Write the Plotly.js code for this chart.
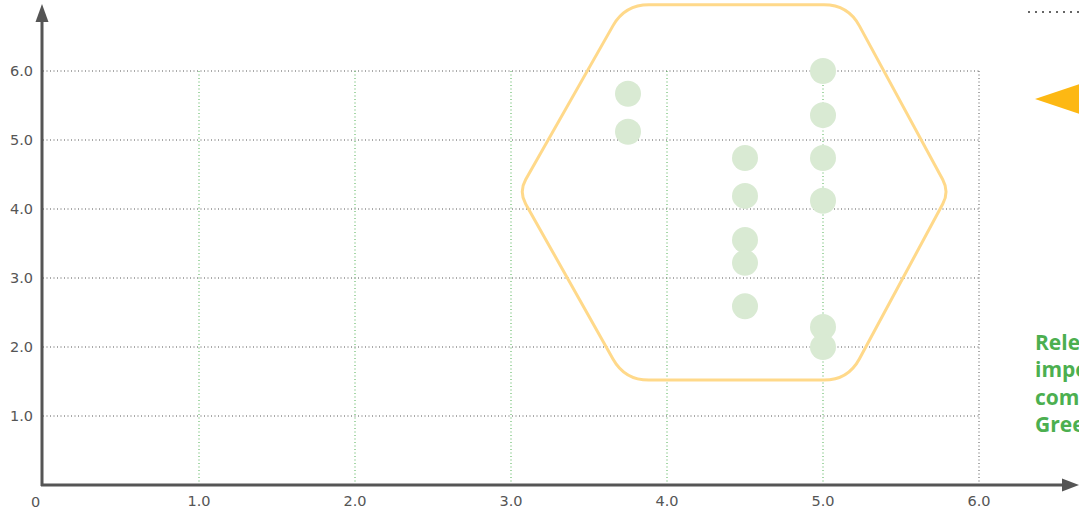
<!DOCTYPE html>
<html><head><meta charset="utf-8">
<script src="https://cdn.plot.ly/plotly-3.0.1.min.js"></script>
<style>html,body{margin:0;padding:0;background:#fff;overflow:hidden}#chart{width:1079px;height:510px}</style>
</head><body><div id="chart"></div>
<script>
// Data
const xValues = [3.75, 3.75, 4.5, 4.5, 4.5, 4.5, 4.5, 5.0, 5.0, 5.0, 5.0, 5.0, 5.0];
const yValues = [5.67, 5.12, 4.74, 4.19, 3.55, 3.22, 2.59, 6.0, 5.36, 4.74, 4.12, 2.29, 2.0];
const xTickVals = [1, 2, 3, 4, 5, 6];
const xTickText = ["1.0", "2.0", "3.0", "4.0", "5.0", "6.0"];
const yTickVals = [1, 2, 3, 4, 5, 6];
const yTickText = ["1.0", "2.0", "3.0", "4.0", "5.0", "6.0"];
const hexVertices = [[3.73, 6.96], [5.16, 6.96], [5.81, 4.25], [5.16, 1.52], [3.73, 1.52], [3.05, 4.25]];
const noteLines = ["Relevant", "important", "comparisons", "Green"];

const W = 1079, H = 510, ML = 43, MB = 25, MT = 0, MR = 0;
const pxPerX = 156, pxPerY = 69;
const plotW = W - ML - MR, plotH = H - MT - MB;
const xMax = plotW / pxPerX, yMax = plotH / pxPerY;
const tickFont = {family: 'DejaVu Sans, sans-serif', size: 14.5, color: '#555'};

const toPx = (x, y) => [ML + x * pxPerX, MT + plotH - y * pxPerY];
const pxToPaper = (px, py) => [(px - ML) / plotW, (MT + plotH - py) / plotH];

const shapes = [];
yTickVals.forEach(v => shapes.push({type: 'line', xref: 'x', yref: 'y', x0: 0, x1: 6, y0: v, y1: v,
  line: {color: '#555', width: 1, dash: '1px,2.5px'}, layer: 'below'}));
xTickVals.forEach((v, i) => shapes.push({type: 'line', xref: 'x', yref: 'y', x0: v, x1: v, y0: 0, y1: 6,
  line: {color: i === xTickVals.length - 1 ? '#555' : '#4CAF50', width: 1, dash: '1px,2.5px'}, layer: 'below'}));

(function () {
  const pts = hexVertices.map(p => toPx(p[0], p[1]));
  const radii = [24, 24, 14, 24, 24, 14];
  let d = '';
  const n = pts.length;
  for (let i = 0; i < n; i++) {
    const r = radii[i];
    const p = pts[i], prev = pts[(i - 1 + n) % n], next = pts[(i + 1) % n];
    const dPrev = Math.hypot(prev[0] - p[0], prev[1] - p[1]);
    const dNext = Math.hypot(next[0] - p[0], next[1] - p[1]);
    const a = [p[0] + (prev[0] - p[0]) * r / dPrev, p[1] + (prev[1] - p[1]) * r / dPrev];
    const b = [p[0] + (next[0] - p[0]) * r / dNext, p[1] + (next[1] - p[1]) * r / dNext];
    const A = pxToPaper(a[0], a[1]), P = pxToPaper(p[0], p[1]), B = pxToPaper(b[0], b[1]);
    d += (i === 0 ? 'M' : 'L') + A[0] + ',' + A[1] + ' Q' + P[0] + ',' + P[1] + ' ' + B[0] + ',' + B[1] + ' ';
  }
  d += 'Z';
  shapes.push({type: 'path', xref: 'paper', yref: 'paper', path: d, line: {color: '#FFD98A', width: 3}, layer: 'above'});
})();

function paperPath(list) {
  return list.map((p, i) => { const q = pxToPaper(p[0], p[1]); return (i ? 'L' : 'M') + q[0] + ',' + q[1]; }).join(' ') + ' Z';
}
shapes.push({type: 'line', xref: 'paper', yref: 'paper', x0: pxToPaper(42, 0)[0], x1: pxToPaper(42, 0)[0],
  y0: pxToPaper(0, 486)[1], y1: pxToPaper(0, 18)[1], line: {color: '#555', width: 3}});
shapes.push({type: 'line', xref: 'paper', yref: 'paper', x0: pxToPaper(41, 0)[0], x1: pxToPaper(1064, 0)[0],
  y0: pxToPaper(0, 485)[1], y1: pxToPaper(0, 485)[1], line: {color: '#555', width: 3}});
shapes.push({type: 'path', xref: 'paper', yref: 'paper', path: paperPath([[42, 4], [35.5, 22], [48.5, 22]]),
  fillcolor: '#555', line: {width: 0}});
shapes.push({type: 'path', xref: 'paper', yref: 'paper', path: paperPath([[1079, 485], [1062, 478.5], [1062, 491.5]]),
  fillcolor: '#555', line: {width: 0}});
shapes.push({type: 'line', xref: 'paper', yref: 'paper', x0: pxToPaper(1028, 0)[0], x1: pxToPaper(1082, 0)[0],
  y0: pxToPaper(0, 12)[1], y1: pxToPaper(0, 12)[1], line: {color: '#666', width: 2, dash: '2px,5px'}});
shapes.push({type: 'path', xref: 'paper', yref: 'paper', path: paperPath([[1035, 99], [1140, 64], [1140, 134]]),
  fillcolor: '#FDB813', line: {width: 0}});

const annotations = [
  {xref: 'x', yref: 'paper', x: 0, y: pxToPaper(0, 492)[1], yanchor: 'top', text: '0', showarrow: false, xshift: -8,
    font: tickFont},
  {xref: 'paper', yref: 'paper', x: pxToPaper(1033, 0)[0], y: pxToPaper(0, 326)[1], xanchor: 'left', yanchor: 'top',
    align: 'left', showarrow: false, text: noteLines.map(s => '<b>' + s + '</b>').join('<br>'),
    font: {family: 'Open Sans, sans-serif', size: 21, color: '#4CAF50'}}
];

const trace = {
  type: 'scatter', mode: 'markers', x: xValues, y: yValues,
  marker: {size: 26, color: 'rgb(217,234,211)', line: {width: 0}},
  hoverinfo: 'x+y', cliponaxis: false
};

const layout = {
  width: W, height: H,
  margin: {l: ML, r: MR, t: MT, b: MB, pad: 0},
  paper_bgcolor: '#ffffff', plot_bgcolor: 'rgba(0,0,0,0)',
  showlegend: false,
  xaxis: {range: [0, xMax], tickvals: xTickVals, ticktext: xTickText, showgrid: false, zeroline: false,
    showline: false, ticks: '', ticklabelstandoff: 5, tickfont: tickFont, fixedrange: true},
  yaxis: {range: [0, yMax], tickvals: yTickVals, ticktext: yTickText, showgrid: false, zeroline: false,
    showline: false, ticks: '', ticklabelstandoff: 9, tickfont: tickFont, fixedrange: true},
  shapes: shapes, annotations: annotations
};

Plotly.newPlot('chart', [trace], layout, {displayModeBar: false, staticPlot: true});
</script></body></html>
